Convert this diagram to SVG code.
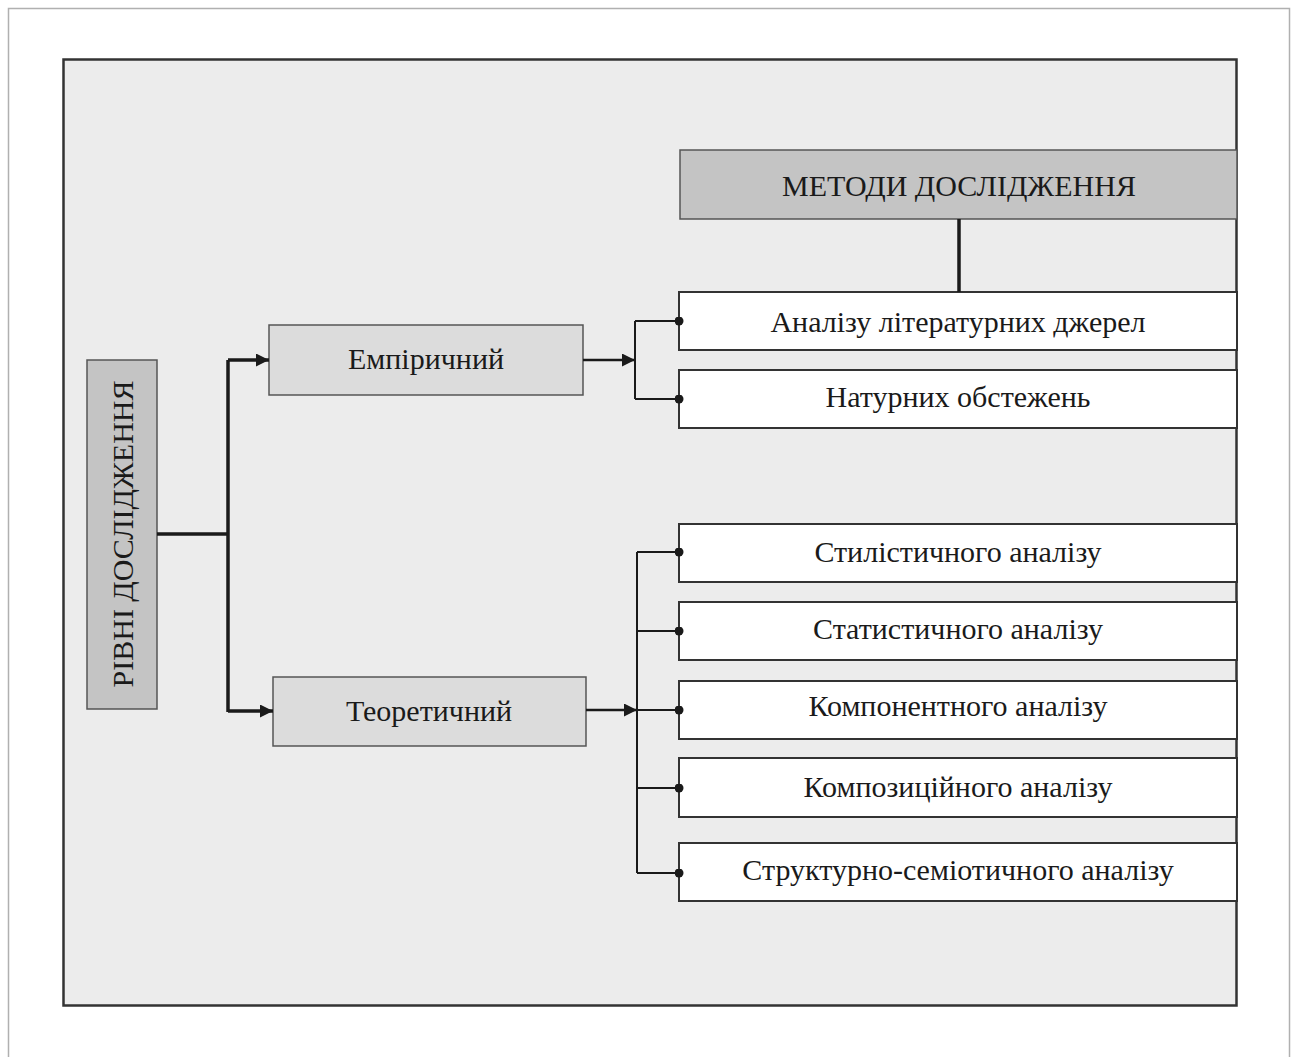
<svg xmlns="http://www.w3.org/2000/svg" width="1298" height="1057" viewBox="0 0 1298 1057">
<style>
text{font-family:"Liberation Serif","Times New Roman",serif;fill:#1a1a1a;text-anchor:middle;dominant-baseline:central}
.t{font-size:30px}
.box{fill:#fff;stroke:#333;stroke-width:2}
.lvl{fill:#dcdcdc;stroke:#555;stroke-width:1.5}
.hd{fill:#c4c4c4;stroke:#555;stroke-width:1.5}
.c{fill:none;stroke:#1a1a1a}
</style>
<defs>
<marker id="arr" viewBox="0 0 12 12" refX="12" refY="6" markerWidth="13" markerHeight="13" orient="auto" markerUnits="userSpaceOnUse"><path d="M0,0L12,6L0,12z" fill="#1a1a1a"/></marker>
<marker id="dot" viewBox="0 0 10 10" refX="5" refY="5" markerWidth="9" markerHeight="9" markerUnits="userSpaceOnUse"><circle cx="5" cy="5" r="5" fill="#1a1a1a"/></marker>
</defs>
<rect x="0" y="0" width="1298" height="1057" fill="#fff"/>
<rect x="8.5" y="8.5" width="1281" height="1070" fill="#fff" stroke="#b0b0b0" stroke-width="1.5"/>
<rect x="63.5" y="59.5" width="1173" height="946" fill="#ececec" stroke="#333" stroke-width="2.5"/>

<g id="rivni"><rect class="hd" x="87" y="360" width="70" height="349"/><text class="t" transform="translate(122,534) rotate(-90)">РІВНІ ДОСЛІДЖЕННЯ</text></g>
<g id="empirical"><rect class="lvl" x="269" y="325" width="314" height="70"/><text class="t" x="426" y="358">Емпіричний</text></g>
<g id="theoretical"><rect class="lvl" x="273" y="677" width="313" height="69"/><text class="t" x="429" y="710">Теоретичний</text></g>
<g id="methods"><rect class="hd" x="680" y="150" width="557" height="69"/><text class="t" x="959" y="185">МЕТОДИ ДОСЛІДЖЕННЯ</text></g>
<g id="m1"><rect class="box" x="679" y="292" width="558" height="58"/><text class="t" x="958" y="321">Аналізу літературних джерел</text></g>
<g id="m2"><rect class="box" x="679" y="370" width="558" height="58"/><text class="t" x="958" y="396">Натурних обстежень</text></g>
<g id="m3"><rect class="box" x="679" y="524" width="558" height="58"/><text class="t" x="958" y="551">Стилістичного аналізу</text></g>
<g id="m4"><rect class="box" x="679" y="602" width="558" height="58"/><text class="t" x="958" y="628">Статистичного аналізу</text></g>
<g id="m5"><rect class="box" x="679" y="681" width="558" height="58"/><text class="t" x="958" y="705">Компонентного аналізу</text></g>
<g id="m6"><rect class="box" x="679" y="758" width="558" height="59"/><text class="t" x="958" y="786">Композиційного аналізу</text></g>
<g id="m7"><rect class="box" x="679" y="843" width="558" height="58"/><text class="t" x="958" y="869">Структурно-семіотичного аналізу</text></g>

<g id="connectors">
<path class="c" stroke-width="3.5" d="M157,534H228"/>
<path class="c" stroke-width="3.5" d="M228,360V712"/>
<path class="c" stroke-width="3.5" d="M228,360H269" marker-end="url(#arr)"/>
<path class="c" stroke-width="3.5" d="M228,711H273" marker-end="url(#arr)"/>
<path class="c" stroke-width="3.5" d="M959,219V292"/>
<path class="c" stroke-width="2.5" d="M583,360H635" marker-end="url(#arr)"/>
<path class="c" stroke-width="2" d="M635,321V399"/>
<path class="c" stroke-width="2" d="M635,321H679" marker-end="url(#dot)"/>
<path class="c" stroke-width="2" d="M635,399H679" marker-end="url(#dot)"/>
<path class="c" stroke-width="2.5" d="M586,710H637" marker-end="url(#arr)"/>
<path class="c" stroke-width="2" d="M637,552V873"/>
<path class="c" stroke-width="2" d="M637,552H679" marker-end="url(#dot)"/>
<path class="c" stroke-width="2" d="M637,631H679" marker-end="url(#dot)"/>
<path class="c" stroke-width="2" d="M637,710H679" marker-end="url(#dot)"/>
<path class="c" stroke-width="2" d="M637,788H679" marker-end="url(#dot)"/>
<path class="c" stroke-width="2" d="M637,873H679" marker-end="url(#dot)"/>
</g>
</svg>
